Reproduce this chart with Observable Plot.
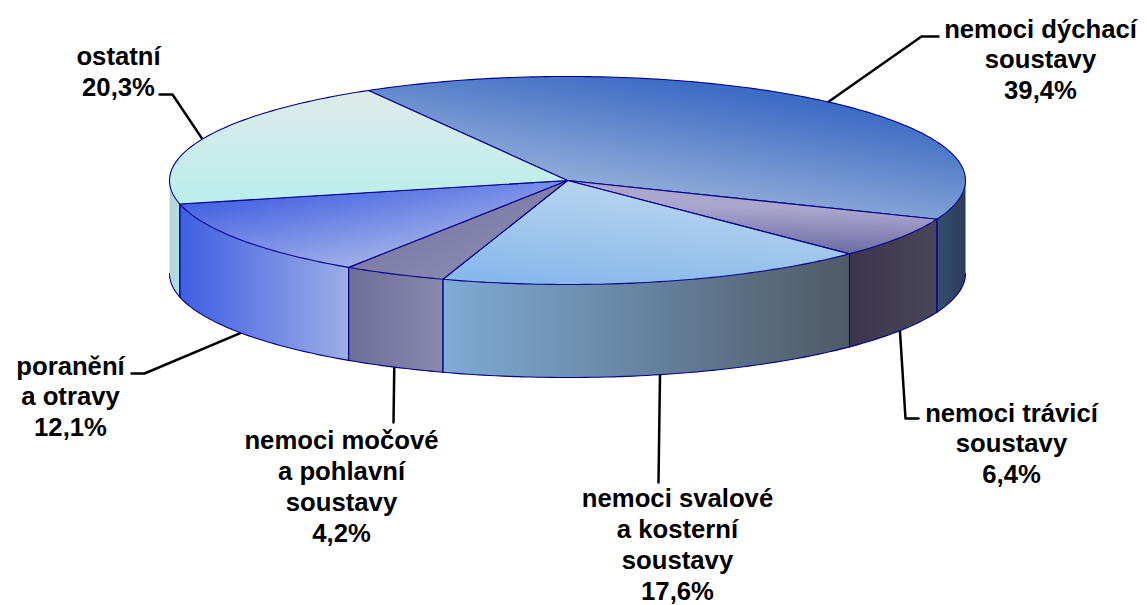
<!DOCTYPE html>
<html>
<head>
<meta charset="utf-8">
<script src="https://cdn.jsdelivr.net/npm/d3@7"></script>
<script src="https://cdn.jsdelivr.net/npm/@observablehq/plot@0.6"></script>
<style>html,body{margin:0;padding:0;background:#fff}svg{display:block}</style>
</head>
<body>
<div id="chart"></div>
<script>
const categories = [
  "nemoci dýchací\nsoustavy",
  "nemoci trávicí\nsoustavy",
  "nemoci svalové\na kosterní\nsoustavy",
  "nemoci močové\na pohlavní\nsoustavy",
  "poranění\na otravy",
  "ostatní"
];
const shares = [39.4, 6.4, 17.6, 4.2, 12.1, 20.3];
const percentLabels = ["39,4%", "6,4%", "17,6%", "4,2%", "12,1%", "20,3%"];

// layout of the tilted pie, in pixels
const W = 1147, H = 605, cx = 567, cy = 180, rx = 398, ry = 104, depth = 93, startAngle = 330;
const labelX = [1040, 1011, 677, 341, 70, 118];
const labelY = [58, 442, 543, 485, 395, 70];
const elbowX = [[921, 938], [905, 918], [658, 658], [393, 393], [144, 131], [172, 159]];
const elbowY = [[36, 36], [418, 418], [482, 482], [422, 422], [373, 373], [94, 94]];

// top-face gradients: [x1, y1, x2, y2, colour from, colour to]
const topGradients = [
  [0.8, 0.22, 0.38, 0.85, "#3c6cc4", "#9ab2da"],
  [0.6, 0.38, 0.52, 1, "#aaa6cd", "#6a68a3"],
  [0.72, 0, 0.32, 1, "#bfd8f0", "#88b9eb"],
  [0, 0, 1, 1, "#6f6f9c", "#9090b6"],
  [0, 0.27, 0.55, 0.9, "#4260e2", "#a0afe8"],
  [0.5, 0, 0.5, 1, "#deebea", "#b9eeeb"]
];
// side-face gradients, left to right
const sideGradients = [
  ["#34506f", "#2b3c58"],
  ["#3a354d", "#4a4659"],
  ["#7fabd6", "#4e5a66"],
  ["#6e6e98", "#8988ae"],
  ["#3f5ee3", "#9dade6"],
  ["#b8d0dc", "#b0e3df"]
];
const edge = "#00008b";

const rad = d => d * Math.PI / 180;
const px = t => cx + rx * Math.sin(rad(t));
const py = t => cy - ry * Math.cos(rad(t));
const arc = (a, b, dy = 0) => {
  const n = Math.max(2, Math.ceil(Math.abs(b - a)));
  return d3.range(n + 1).map(i => {
    const t = a + (b - a) * i / n;
    return {x: px(t), y: py(t) + dy};
  });
};

// cumulate the shares into angles
let acc = startAngle;
const slices = shares.map((v, i) => {
  const a0 = acc, a1 = acc + v * 3.6;
  acc = a1;
  return {i, a0, a1, mid: (a0 + a1) / 2};
});

const topPolygon = s => {
  const c = {x: cx, y: cy};
  return [c, ...arc(s.a0, s.a1), c];
};
// visible wall: the part of the slice between 90° and 270°, taken modulo a full turn
const wallRange = s => {
  for (const k of [0, -360, 360]) {
    const a = Math.max(s.a0 + k, 90), b = Math.min(s.a1 + k, 270);
    if (b > a) return [a, b];
  }
  return null;
};

const defs = () => {
  const d = d3.create("svg:defs");
  const grad = (id, c0, c1, g) => {
    const lg = d.append("linearGradient").attr("id", id)
      .attr("x1", g[0]).attr("y1", g[1]).attr("x2", g[2]).attr("y2", g[3]);
    lg.append("stop").attr("offset", 0).attr("stop-color", c0);
    lg.append("stop").attr("offset", 1).attr("stop-color", c1);
  };
  topGradients.forEach((g, i) => grad(`top${i}`, g[4], g[5], g));
  sideGradients.forEach((g, i) => grad(`side${i}`, g[0], g[1], [0, 0, 1, 0]));
  return d.node();
};

const xy = {x: "x", y: "y"};
const marks = [defs];
// leader lines, from the middle of each slice's rim
slices.forEach(s => {
  const m = s.mid % 360;
  const start = {x: px(s.mid), y: py(s.mid) + (m > 90 && m < 270 ? depth : 0)};
  const pts = [start, ...elbowX[s.i].map((x, j) => ({x, y: elbowY[s.i][j]}))];
  marks.push(Plot.line(pts, {...xy, stroke: "#000", strokeWidth: 2.5}));
});
// walls: a fill, then only the bottom rim and the seams are stroked
slices.forEach(s => {
  const r = wallRange(s);
  if (!r) return;
  const t = arc(r[0], r[1]), b = arc(r[1], r[0], depth);
  marks.push(Plot.line([...t, ...b, t[0]], {...xy, fill: `url(#side${s.i})`, stroke: "none"}));
  marks.push(Plot.line(b, {...xy, stroke: edge, strokeWidth: 1.1}));
});
slices.forEach(s => {
  const r = wallRange(s);
  if (!r) return;
  for (const a of r) {
    if (a === 90 || a === 270) continue;
    marks.push(Plot.line(arc(a, a, 0).slice(0, 1).concat(arc(a, a, depth).slice(0, 1)), {...xy, stroke: edge, strokeWidth: 1}));
  }
});
slices.forEach(s => {
  marks.push(Plot.line(topPolygon(s), {...xy, fill: `url(#top${s.i})`, stroke: edge, strokeWidth: 1.1}));
});
// labels
marks.push(Plot.text(categories.map((c, i) => ({t: c + "\n" + percentLabels[i], x: labelX[i], y: labelY[i]})), {
  x: "x", y: "y", text: "t", textAnchor: "middle", lineAnchor: "middle", lineHeight: 1.2,
  fontFamily: "'Liberation Sans', Arial, sans-serif", fontWeight: "bold", fontSize: 25.7, fill: "#000"
}));

const chart = Plot.plot({
  width: W, height: H, margin: 0,
  style: {background: "#fff", overflow: "visible"},
  x: {domain: [0, W], range: [0, W], axis: null},
  y: {domain: [0, H], range: [0, H], axis: null},
  marks
});
document.getElementById("chart").append(chart);
</script>
</body>
</html>
